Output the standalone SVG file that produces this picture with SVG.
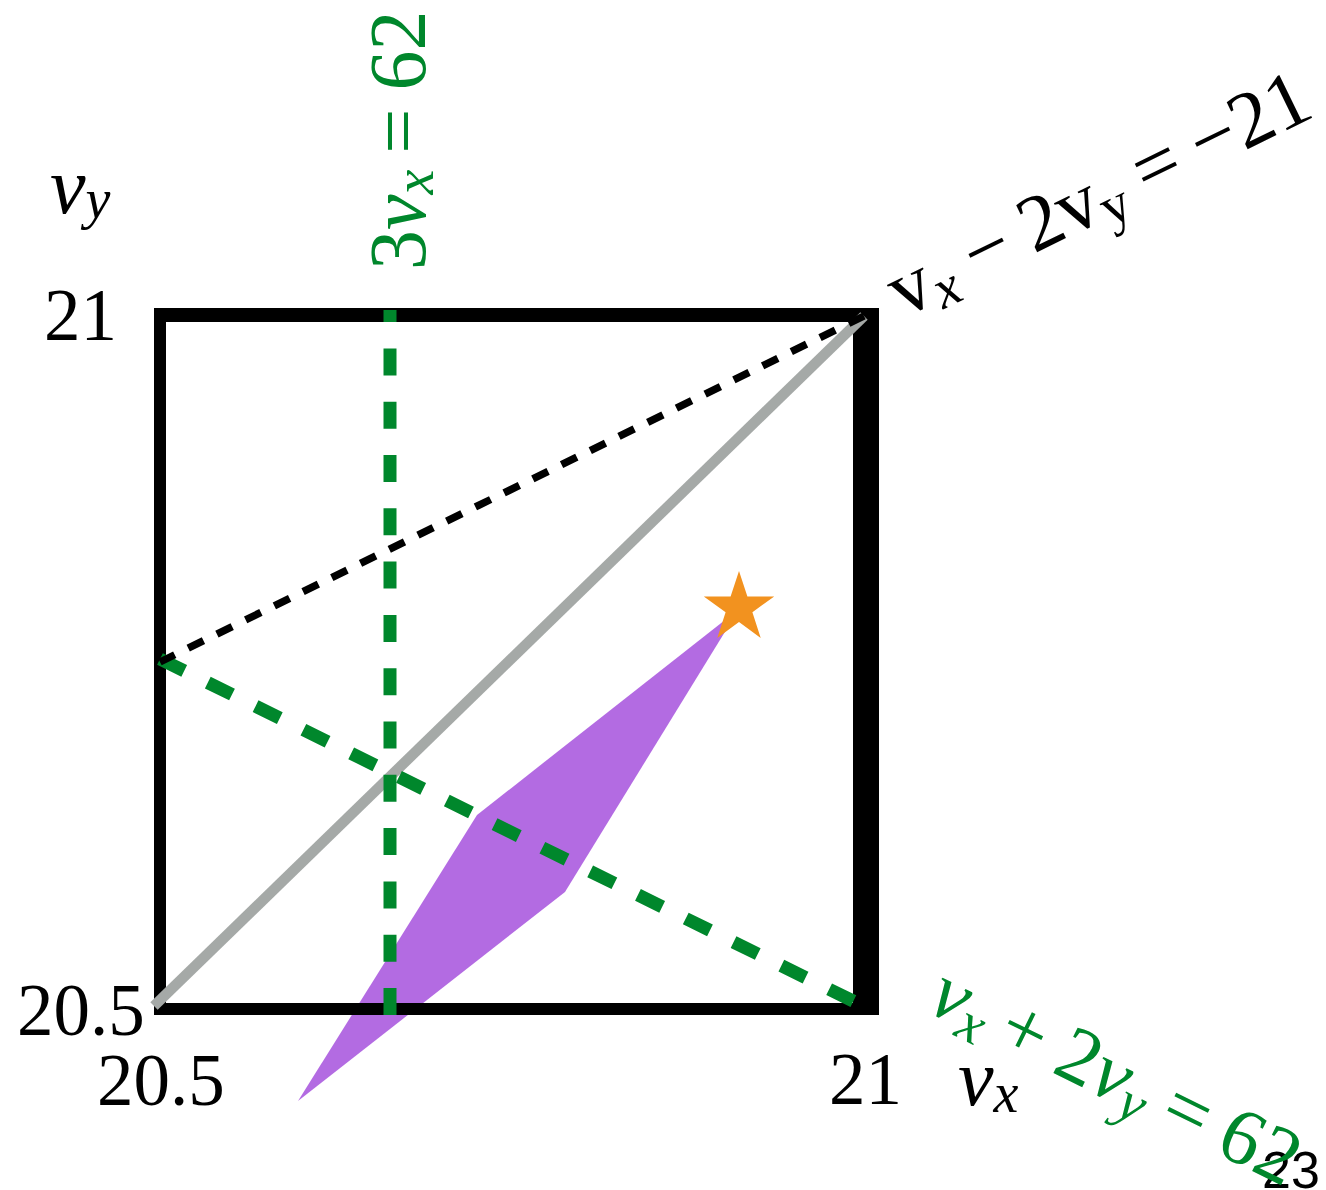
<svg xmlns="http://www.w3.org/2000/svg" width="1326" height="1190" viewBox="0 0 1326 1190">
<style>
.serif{font-family:"Liberation Serif","Times New Roman",serif;}
.it{font-style:italic;}
.num{font-size:73px;fill:#000;}
.green{fill:#00872c;}
.frame{stroke:#000;fill:none;}
.gl{stroke:#00872c;stroke-width:13;fill:none;stroke-dasharray:27 26.3;}
</style>
<rect width="1326" height="1190" fill="#fff"/>
<g id="feasible-region">
<polygon points="739,609 477,815 298,1101 565,892" fill="#b36be2"/>
</g>
<g id="box">
<line class="frame" x1="154" y1="315" x2="879" y2="315" stroke-width="14"/>
<line class="frame" x1="160" y1="308" x2="160" y2="1015" stroke-width="12"/>
<line class="frame" x1="158" y1="1009" x2="879" y2="1009" stroke-width="12"/>
<rect x="853" y="308" width="26" height="707" fill="#000"/>
</g>
<g id="connectors">
<line x1="154" y1="1006" x2="864" y2="316" stroke="#a5a9a7" stroke-width="10.5"/>
<line class="gl" x1="390" y1="1015" x2="390" y2="310"/>
<line class="gl" x1="160" y1="659" x2="855" y2="1002"/>
<line x1="864" y1="316" x2="160" y2="662" stroke="#000" stroke-width="7.5" stroke-dasharray="17 15"/>
</g>
<g id="optimum">
<polygon points="739,571 747.4,596.5 774.2,596.5 752.4,612.2 760.7,637.9 739,622 717.3,637.9 725.6,612.2 703.8,596.5 730.6,596.5" fill="#f2921f"/>
</g>
<g id="axis-labels" class="serif">
<text class="num" x="44" y="340">21</text>
<text class="num" x="17" y="1035">20.5</text>
<text class="num" x="97" y="1105">20.5</text>
<text class="num" x="829" y="1104">21</text>
<text x="50" y="213" font-size="80"><tspan class="it">v</tspan><tspan class="it" font-size="56" dy="5">y</tspan></text>
<text x="958" y="1105" font-size="80"><tspan class="it">v</tspan><tspan class="it" font-size="56" dy="7">x</tspan></text>
</g>
<g id="label-vertical" transform="translate(425,270) rotate(-90)">
<text class="serif green" x="0" y="0" font-size="80">3<tspan class="it">v</tspan><tspan class="it" font-size="56" dy="8">x</tspan><tspan dy="-8" dx="16">=</tspan><tspan dx="18">62</tspan></text>
</g>
<g id="label-black" transform="translate(903,318) rotate(-26.1)">
<text class="serif" x="0" y="0" font-size="80" fill="#000">v<tspan class="it" font-size="56" dy="10">x</tspan><tspan dy="-10" dx="18">−</tspan><tspan dx="18">2v</tspan><tspan font-size="56" dy="10">y</tspan><tspan dy="-10" dx="18">=</tspan><tspan dx="18">−21</tspan></text>
</g>
<g id="page-number">
<text x="1262" y="1188" font-family="Liberation Sans, Arial, sans-serif" font-size="52" fill="#000">23</text>
</g>
<g id="label-green" transform="translate(925,1010) rotate(26.2)">
<text class="serif green" x="0" y="0" font-size="80"><tspan class="it">v</tspan><tspan class="it" font-size="56" dy="10">x</tspan><tspan dy="-10" dx="16">+</tspan><tspan dx="18">2</tspan><tspan class="it">v</tspan><tspan class="it" font-size="56" dy="10">y</tspan><tspan dy="-10" dx="18">=</tspan><tspan dx="18">62</tspan></text>
</g>
</svg>
